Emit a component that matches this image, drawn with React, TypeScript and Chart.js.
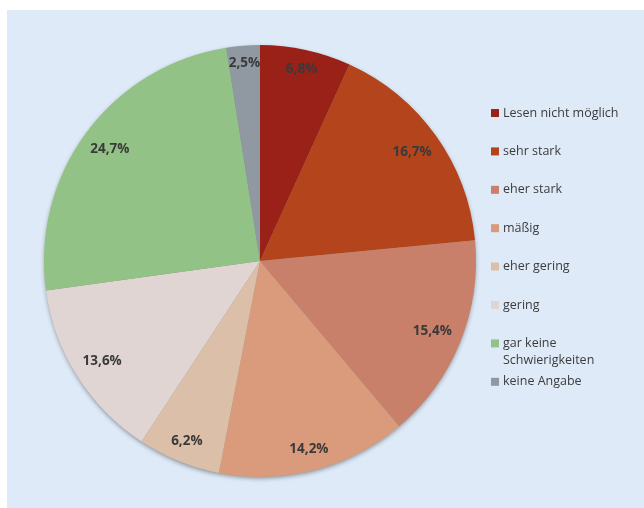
import React, { useEffect, useRef } from "react";
import { Chart, registerables } from "chart.js";

Chart.register(...registerables);

const categories = [
  "Lesen nicht möglich",
  "sehr stark",
  "eher stark",
  "mäßig",
  "eher gering",
  "gering",
  "gar keine\nSchwierigkeiten",
  "keine Angabe",
];
const values = [6.8, 16.7, 15.4, 14.2, 6.2, 13.6, 24.7, 2.5];
const valueLabels = ["6,8%", "16,7%", "15,4%", "14,2%", "6,2%", "13,6%", "24,7%", "2,5%"];
const colors = [
  "#9a2117",
  "#b4441b",
  "#c9806b",
  "#d99b7b",
  "#dcbfa8",
  "#e0d5d3",
  "#93c287",
  "#9099a2",
];

const FONT = "'Open Sans', 'Liberation Sans', sans-serif";

const bgPlugin = {
  id: "bg",
  beforeDraw(chart: any) {
    const ctx = chart.ctx;
    ctx.save();
    ctx.fillStyle = "#ffffff";
    ctx.fillRect(0, 0, chart.width, chart.height);
    ctx.fillStyle = "#deeaf7";
    ctx.fillRect(7, 10, chart.width - 7, chart.height - 10);
    ctx.restore();
  },
  beforeDatasetsDraw(chart: any) {
    const arc = chart.getDatasetMeta(0).data[0];
    if (!arc) return;
    const ctx = chart.ctx;
    ctx.save();
    ctx.shadowColor = "rgba(0,0,0,0.45)";
    ctx.shadowBlur = 5;
    ctx.shadowOffsetX = 0;
    ctx.shadowOffsetY = 2;
    ctx.fillStyle = "#888";
    ctx.beginPath();
    ctx.arc(arc.x, arc.y, arc.outerRadius - 1, 0, Math.PI * 2);
    ctx.fill();
    ctx.restore();
  },
};

const labelPlugin = {
  id: "sliceLabels",
  afterDatasetsDraw(chart: any) {
    const ctx = chart.ctx;
    const meta = chart.getDatasetMeta(0);
    ctx.save();
    ctx.font = `bold 13.5px ${FONT}`;
    ctx.fillStyle = "#3a3a3a";
    ctx.textAlign = "center";
    ctx.textBaseline = "middle";
    meta.data.forEach((arc: any, i: number) => {
      const mid = (arc.startAngle + arc.endAngle) / 2;
      const ux = Math.cos(mid);
      const uy = Math.sin(mid);
      const w = ctx.measureText(valueLabels[i]).width / 2;
      const h = 7;
      const L = arc.outerRadius - 9;
      const b = Math.abs(ux) * w + Math.abs(uy) * h;
      const d = -b + Math.sqrt(b * b - (w * w + h * h - L * L));
      ctx.fillText(valueLabels[i], arc.x + ux * d, arc.y + uy * d);
    });
    ctx.restore();
  },
};

const legendPlugin = {
  id: "customLegend",
  afterDraw(chart: any) {
    const ctx = chart.ctx;
    ctx.save();
    ctx.font = `12.5px ${FONT}`;
    ctx.textBaseline = "middle";
    ctx.textAlign = "left";
    categories.forEach((c, i) => {
      const y = 113 + i * 38.4;
      ctx.fillStyle = colors[i];
      ctx.fillRect(491, y - 4, 8, 8);
      ctx.fillStyle = "#3c3c3c";
      c.split("\n").forEach((line, j) => {
        ctx.fillText(line, 503, y + j * 17.5);
      });
    });
    ctx.restore();
  },
};

export default function App() {
  const ref = useRef<HTMLCanvasElement>(null);
  useEffect(() => {
    document.body.style.margin = "0";
    const chart = new Chart(ref.current!, {
      type: "pie",
      data: {
        labels: categories,
        datasets: [
          {
            data: values,
            backgroundColor: colors,
            borderWidth: 0,
            hoverOffset: 0,
            offset: 0,
          },
        ],
      },
      options: {
        animation: false,
        responsive: false,
        maintainAspectRatio: false,
        layout: { padding: { left: 44, right: 168, top: 45, bottom: 31 } },
        plugins: {
          legend: { display: false },
          tooltip: { enabled: false },
        },
      },
      plugins: [bgPlugin, labelPlugin, legendPlugin],
    });
    return () => chart.destroy();
  }, []);
  return (
    <div style={{ width: 644, height: 508 }}>
      <canvas ref={ref} width={644} height={508} style={{ display: "block" }} />
    </div>
  );
}
